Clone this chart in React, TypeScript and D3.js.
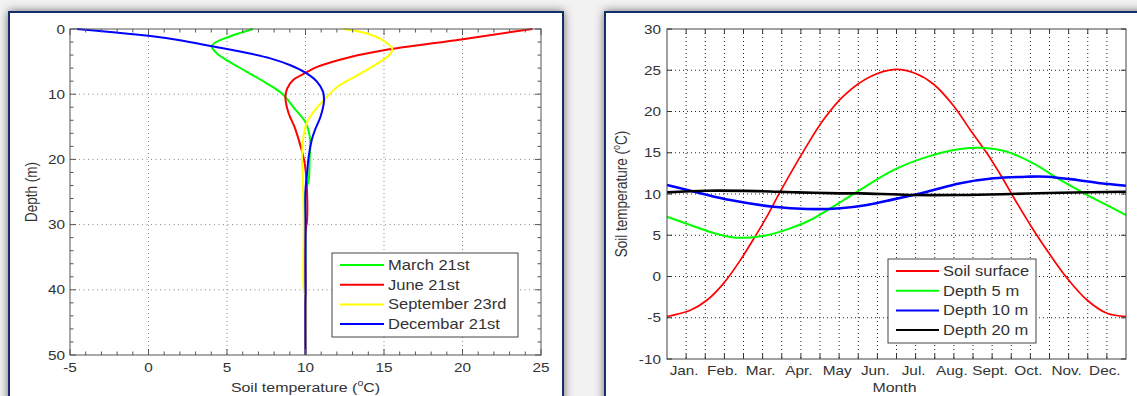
import React from "react";
import * as d3 from "d3";

// ---------- Left chart: soil temperature profiles (temperature °C vs depth m) ----------
const marchDepth = [0, 0.6, 1.3, 2.24, 2.75, 3.77, 4.8, 6.58, 8.37, 9.9, 12.2, 14.3, 17, 19.6, 23.2, 25, 30, 40, 50];
const marchTemp = [6.66, 5.85, 5.0, 4.15, 4.04, 4.36, 5.0, 6.27, 7.55, 8.5, 9.3, 10.0, 10.3, 10.27, 10.2, 10.0, 10.0, 10.0, 10.0];

const juneDepth = [0, 0.46, 1.6, 3.26, 4.29, 5.82, 6.74, 7.75, 9.13, 10.5, 12.96, 15.0, 17, 18.8, 20.6, 23.2, 29.3, 31, 40, 50];
const juneTemp = [24.45, 23.1, 19.9, 15.0, 12.87, 10.74, 10.0, 9.25, 8.83, 8.72, 8.93, 9.3, 9.57, 9.78, 9.95, 10.06, 10.1, 10.0, 10.0, 10.0];

const septDepth = [0, 0.7, 1.84, 3.0, 3.77, 5.3, 7.1, 8.9, 10.66, 12.45, 14.3, 16.2, 19.6, 22.7, 26, 30, 40, 41, 50];
const septTemp = [12.43, 13.92, 15.0, 15.52, 15.42, 14.57, 13.3, 12.02, 11.27, 10.6, 10.1, 9.89, 9.78, 9.83, 9.86, 9.89, 9.89, 10.0, 10.0];

const decDepth = [0, 0.46, 1.05, 1.73, 2.65, 3.77, 4.5, 5.56, 6.7, 8.1, 9.65, 11.2, 13.5, 15.5, 17, 19.6, 22.1, 24.7, 30, 40, 50];
const decTemp = [-4.57, -2.45, 0, 2.0, 4.04, 6.45, 7.76, 9.04, 10.0, 10.74, 11.12, 11.17, 10.95, 10.6, 10.4, 10.2, 10.1, 10.0, 10.0, 10.0, 10.0];

const profileNames = ["March 21st", "June 21st", "September 23rd", "Decembar 21st"];
const profileColors = ["#00ff00", "#ff0000", "#ffff00", "#0000ff"];

const leftXTicks = [-5, 0, 5, 10, 15, 20, 25];
const leftYTicks = [0, 10, 20, 30, 40, 50];

// ---------- Right chart: annual temperature cycle at depths ----------
const surfaceMonth = [0, 0.61, 1.05, 1.48, 1.92, 2.27, 2.61, 2.96, 3.57, 4.09, 4.62, 5.31, 5.97, 6.5, 6.97, 7.49, 7.93, 8.37, 8.8, 9.06, 9.58, 10.02, 10.46, 10.98, 11.5, 12];
const surfaceTemp = [-4.85, -4.1, -2.85, -0.83, 2.0, 4.6, 7.25, 10.28, 15.2, 19.0, 21.9, 24.2, 25.1, 24.6, 23.3, 20.7, 17.76, 14.9, 11.7, 9.6, 5.64, 2.6, -0.2, -2.85, -4.46, -4.85];

const depth5Month = [0, 0.61, 1.13, 1.65, 2.09, 2.61, 3.22, 3.75, 4.27, 4.62, 5.05, 5.92, 6.8, 7.67, 8.19, 8.89, 9.58, 10.28, 10.98, 11.24, 12];
const depth5Temp = [7.25, 6.24, 5.4, 4.8, 4.7, 5.0, 5.84, 6.85, 8.27, 9.27, 10.5, 12.9, 14.5, 15.45, 15.6, 15.13, 13.7, 11.7, 9.9, 9.27, 7.45];

const depth10Month = [0, 0.87, 1.65, 2.79, 3.66, 4.53, 5.23, 5.92, 6.8, 7.67, 8.54, 9.41, 9.93, 10.72, 11.33, 12];
const depth10Temp = [11.1, 10.1, 9.27, 8.45, 8.18, 8.27, 8.67, 9.35, 10.28, 11.3, 11.9, 12.1, 12.1, 11.7, 11.3, 11.0];

const depth20Month = [0, 1.05, 2.35, 3.4, 4.53, 5.05, 6.36, 7.67, 8.98, 10.28, 12];
const depth20Temp = [10.2, 10.4, 10.35, 10.2, 10.08, 10.08, 9.88, 9.88, 10.0, 10.16, 10.28];

const seriesNames = ["Soil surface", "Depth 5 m", "Depth 10 m", "Depth 20 m"];
const seriesColors = ["#ff0000", "#00ff00", "#0000ff", "#000000"];
const monthLabels = ["Jan.", "Feb.", "Mar.", "Apr.", "May", "Jun.", "Jul.", "Aug.", "Sept.", "Oct.", "Nov.", "Dec."];
const rightYTicks = [-10, -5, 0, 5, 10, 15, 20, 25, 30];

// ---------- layout ----------
const W = 1137;
const H = 396;
const FONT = "'Liberation Sans', Arial, Helvetica, sans-serif";
const SX = 1.18;
const TXT = "#333";

const xL = d3.scaleLinear().domain([-5, 25]).range([70, 541]);
const yL = d3.scaleLinear().domain([0, 50]).range([29, 355]);
const xR = d3.scaleLinear().domain([0, 12]).range([667, 1126]);
const yR = d3.scaleLinear().domain([-10, 30]).range([359, 29]);

function Label(props: any) {
  const { x, y, anchor = "middle", size = 13, rot = false, children } = props;
  const tr = rot
    ? `translate(${x},${y}) rotate(-90) scale(1,${SX})`
    : `translate(${x},${y}) scale(${SX},1)`;
  return (
    <text transform={tr} textAnchor={anchor} fontSize={size} fill={TXT} fontFamily={FONT}>
      {children}
    </text>
  );
}

function DegTitle() {
  return (
    <>
      Soil temperature (<tspan fontSize={9} dy={-6}>o</tspan>
      <tspan dy={6}>C)</tspan>
    </>
  );
}

export default function App() {
  const profLine = d3
    .line<[number, number]>()
    .x((d) => xL(d[0]))
    .y((d) => yL(d[1]))
    .curve(d3.curveCatmullRom.alpha(0.5));
  const profiles: [number[], number[]][] = [
    [marchTemp, marchDepth],
    [juneTemp, juneDepth],
    [septTemp, septDepth],
    [decTemp, decDepth],
  ];

  const yearLine = d3
    .line<[number, number]>()
    .x((d) => xR(d[0]))
    .y((d) => yR(d[1]))
    .curve(d3.curveCatmullRom.alpha(0.5));
  const series: [number[], number[]][] = [
    [surfaceMonth, surfaceTemp],
    [depth5Month, depth5Temp],
    [depth10Month, depth10Temp],
    [depth20Month, depth20Temp],
  ];
  const seriesWidths = [1.7, 2, 2.6, 2.6];

  const [lx0, lx1] = xL.range();
  const [ly0, ly1] = yL.range();
  const [rx0, rx1] = xR.range();
  const [ry1, ry0] = yR.range();

  const leftMinorX = d3.range(-5, 25.01, 1).filter((v) => Math.round(v) % 5 !== 0);
  const leftMinorY = d3.range(0, 50.01, 2).filter((v) => Math.round(v) % 10 !== 0);
  const rightXTicks = d3.range(0.5, 11.51, 0.5);

  const legL = { x: 332, y: 253, w: 186, h: 84 };
  const legR = { x: 888, y: 259, w: 148, h: 84 };

  return (
    <svg
      width={W}
      height={H}
      style={{ position: "absolute", left: 0, top: 0, display: "block" }}
      xmlns="http://www.w3.org/2000/svg"
    >
      <defs>
        <filter id="sh" x="-5%" y="-10%" width="110%" height="120%">
          <feDropShadow dx="0" dy="0" stdDeviation="5" floodColor="#000" floodOpacity="0.55" />
        </filter>
      </defs>
      <rect x={0} y={0} width={W} height={H} fill="#f2f2f2" />
      <rect x={9} y={12} width={554} height={420} fill="#fff" stroke="#132d6b" strokeWidth={2} filter="url(#sh)" />
      <rect x={605} y={12} width={560} height={420} fill="#fff" stroke="#132d6b" strokeWidth={2} filter="url(#sh)" />

      {/* ---------------- LEFT CHART ---------------- */}
      <g>
        {leftXTicks.slice(1, -1).map((v) => (
          <line key={"lgx" + v} x1={xL(v)} x2={xL(v)} y1={ly0} y2={ly1} stroke="#888" strokeWidth={1} strokeDasharray="1,3" />
        ))}
        {leftYTicks.slice(1, -1).map((v) => (
          <line key={"lgy" + v} x1={lx0} x2={lx1} y1={yL(v)} y2={yL(v)} stroke="#888" strokeWidth={1} strokeDasharray="1,3.5" />
        ))}
        {profiles.map(([t, d], i) => (
          <path
            key={"prof" + i}
            d={profLine(t.map((v, j) => [v, d[j]] as [number, number])) || ""}
            fill="none"
            stroke={profileColors[i]}
            strokeWidth={2}
            strokeLinejoin="round"
          />
        ))}
        <rect x={lx0} y={ly0} width={lx1 - lx0} height={ly1 - ly0} fill="none" stroke="#555" strokeWidth={1} />
        {leftXTicks.map((v) => (
          <g key={"ltx" + v}>
            <line x1={xL(v)} x2={xL(v)} y1={ly1} y2={ly1 - 6} stroke="#555" />
            <line x1={xL(v)} x2={xL(v)} y1={ly0} y2={ly0 + 6} stroke="#555" />
            <Label x={xL(v)} y={372}>{String(v)}</Label>
          </g>
        ))}
        {leftMinorX.map((v) => (
          <g key={"lmx" + v}>
            <line x1={xL(v)} x2={xL(v)} y1={ly1} y2={ly1 - 3.5} stroke="#555" />
            <line x1={xL(v)} x2={xL(v)} y1={ly0} y2={ly0 + 3.5} stroke="#555" />
          </g>
        ))}
        {leftYTicks.map((v) => (
          <g key={"lty" + v}>
            <line x1={lx0} x2={lx0 + 6} y1={yL(v)} y2={yL(v)} stroke="#555" />
            <line x1={lx1} x2={lx1 - 6} y1={yL(v)} y2={yL(v)} stroke="#555" />
            <Label x={65} y={yL(v) + 4.5} anchor="end">{String(v)}</Label>
          </g>
        ))}
        {leftMinorY.map((v) => (
          <g key={"lmy" + v}>
            <line x1={lx0} x2={lx0 + 3.5} y1={yL(v)} y2={yL(v)} stroke="#555" />
            <line x1={lx1} x2={lx1 - 3.5} y1={yL(v)} y2={yL(v)} stroke="#555" />
          </g>
        ))}
        <Label x={(lx0 + lx1) / 2} y={392} size={13.5}>
          <DegTitle />
        </Label>
        <Label x={37} y={(ly0 + ly1) / 2} size={13.5} rot>
          Depth (m)
        </Label>
        <rect x={legL.x} y={legL.y} width={legL.w} height={legL.h} fill="#fff" stroke="#444" strokeWidth={1} />
        {profileNames.map((n, i) => {
          const yy = legL.y + 12 + i * 19.7;
          return (
            <g key={"ll" + i}>
              <line x1={legL.x + 8} x2={legL.x + 52} y1={yy} y2={yy} stroke={profileColors[i]} strokeWidth={2} />
              <Label x={legL.x + 56} y={yy + 5} anchor="start" size={14}>{n}</Label>
            </g>
          );
        })}
      </g>

      {/* ---------------- RIGHT CHART ---------------- */}
      <g>
        {rightXTicks.map((v) => (
          <line key={"rgx" + v} x1={xR(v)} x2={xR(v)} y1={ry0} y2={ry1} stroke="#222" strokeWidth={1} strokeDasharray="1,3" />
        ))}
        {rightYTicks.slice(1, -1).map((v) => (
          <line key={"rgy" + v} x1={rx0} x2={rx1} y1={yR(v)} y2={yR(v)} stroke="#222" strokeWidth={1} strokeDasharray="1,3" />
        ))}
        {series.map(([m, t], i) => (
          <path
            key={"ser" + i}
            d={yearLine(m.map((v, j) => [v, t[j]] as [number, number])) || ""}
            fill="none"
            stroke={seriesColors[i]}
            strokeWidth={seriesWidths[i]}
            strokeLinejoin="round"
          />
        ))}
        <rect x={rx0} y={ry0} width={rx1 - rx0} height={ry1 - ry0} fill="none" stroke="#444" strokeWidth={1} />
        {rightXTicks.map((v) => (
          <g key={"rtx" + v}>
            <line x1={xR(v)} x2={xR(v)} y1={ry1} y2={ry1 - 5} stroke="#333" />
            <line x1={xR(v)} x2={xR(v)} y1={ry0} y2={ry0 + 5} stroke="#333" />
          </g>
        ))}
        {monthLabels.map((lab, i) => (
          <Label key={"ml" + i} x={xR(i + 0.5) - 2} y={375}>{lab}</Label>
        ))}
        {rightYTicks.map((v) => (
          <g key={"rty" + v}>
            <line x1={rx0} x2={rx0 + 5} y1={yR(v)} y2={yR(v)} stroke="#333" />
            <line x1={rx1} x2={rx1 - 5} y1={yR(v)} y2={yR(v)} stroke="#333" />
            <Label x={661} y={yR(v) + 4.5} anchor="end">{String(v)}</Label>
          </g>
        ))}
        <Label x={(rx0 + rx1) / 2 - 2} y={392} size={13.5}>Month</Label>
        <Label x={627} y={(ry0 + ry1) / 2} size={13.5} rot>
          <DegTitle />
        </Label>
        <rect x={legR.x} y={legR.y} width={legR.w} height={legR.h} fill="#fff" stroke="#444" strokeWidth={1} />
        {seriesNames.map((n, i) => {
          const yy = legR.y + 12 + i * 19.7;
          return (
            <g key={"rl" + i}>
              <line x1={legR.x + 8} x2={legR.x + 51} y1={yy} y2={yy} stroke={seriesColors[i]} strokeWidth={2} />
              <Label x={legR.x + 55} y={yy + 5} anchor="start" size={14}>{n}</Label>
            </g>
          );
        })}
      </g>
    </svg>
  );
}
